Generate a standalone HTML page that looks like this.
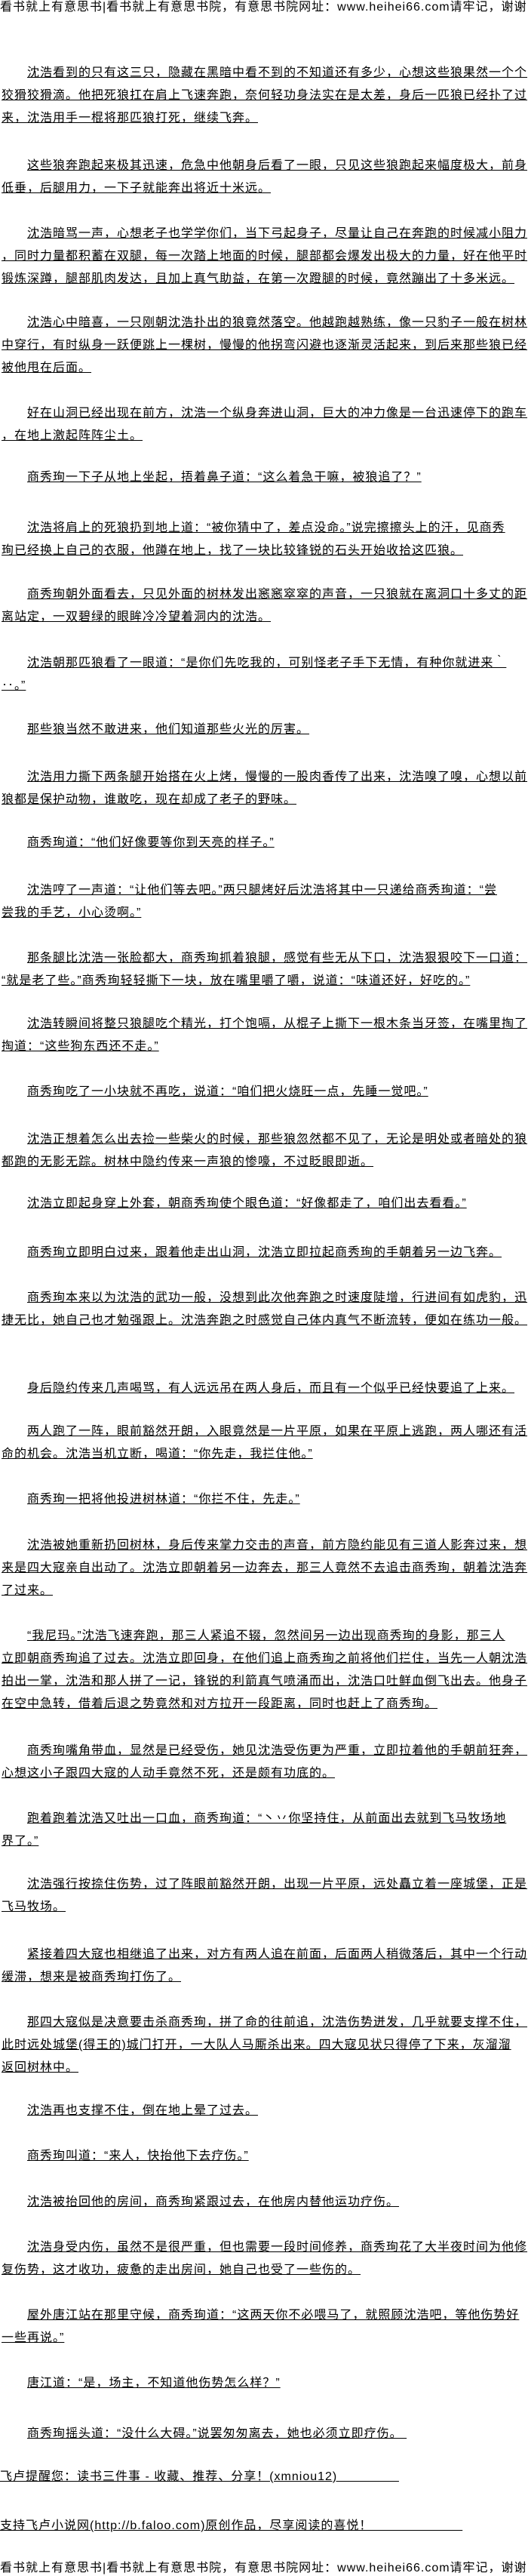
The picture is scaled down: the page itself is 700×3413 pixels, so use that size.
<!DOCTYPE html>
<html><head><meta charset="utf-8">
<style>
html,body{margin:0;padding:0;background:#fff;}
body{width:700px;height:3410px;position:relative;overflow:hidden;
font-family:"Liberation Sans","WenQuanYi Zen Hei","Noto Sans CJK SC",sans-serif;font-size:16px;letter-spacing:1px;color:#000;}
.p{position:absolute;left:2px;line-height:30px;white-space:nowrap;text-decoration:underline;}
.p .i{display:inline-block;width:34px;}
.h{position:absolute;left:0;white-space:nowrap;line-height:20px;}
</style></head><body>
<div class="h" style="top:0">看书就上有意思书|看书就上有意思书院，有意思书院网址：www.heihei66.com请牢记，谢谢</div>

<div class="p" style="top:82px"><span class="i"></span>沈浩看到的只有这三只，隐藏在黑暗中看不到的不知道还有多少，心想这些狼果然一个个<br>狡猾狡猾滴。他把死狼扛在肩上飞速奔跑，奈何轻功身法实在是太差，身后一匹狼已经扑了过<br>来，沈浩用手一棍将那匹狼打死，继续飞奔。</div>
<div class="p" style="top:205px"><span class="i"></span>这些狼奔跑起来极其迅速，危急中他朝身后看了一眼，只见这些狼跑起来幅度极大，前身<br>低垂，后腿用力，一下子就能奔出将近十米远。</div>
<div class="p" style="top:295px"><span class="i"></span>沈浩暗骂一声，心想老子也学学你们，当下弓起身子，尽量让自己在奔跑的时候减小阻力<br>，同时力量都积蓄在双腿，每一次踏上地面的时候，腿部都会爆发出极大的力量，好在他平时<br>锻炼深蹲，腿部肌肉发达，且加上真气助益，在第一次蹬腿的时候，竟然蹦出了十多米远。</div>
<div class="p" style="top:413px"><span class="i"></span>沈浩心中暗喜，一只刚朝沈浩扑出的狼竟然落空。他越跑越熟练，像一只豹子一般在树林<br>中穿行，有时纵身一跃便跳上一棵树，慢慢的他拐弯闪避也逐渐灵活起来，到后来那些狼已经<br>被他甩在后面。</div>
<div class="p" style="top:533px"><span class="i"></span>好在山洞已经出现在前方，沈浩一个纵身奔进山洞，巨大的冲力像是一台迅速停下的跑车<br>，在地上激起阵阵尘土。</div>
<div class="p" style="top:618px"><span class="i"></span>商秀珣一下子从地上坐起，捂着鼻子道：“这么着急干嘛，被狼追了？”</div>
<div class="p" style="top:685px"><span class="i"></span>沈浩将肩上的死狼扔到地上道：“被你猜中了，差点没命。”说完擦擦头上的汗，见商秀<br>珣已经换上自己的衣服，他蹲在地上，找了一块比较锋锐的石头开始收拾这匹狼。</div>
<div class="p" style="top:773px"><span class="i"></span>商秀珣朝外面看去，只见外面的树林发出窸窸窣窣的声音，一只狼就在离洞口十多丈的距<br>离站定，一双碧绿的眼眸冷冷望着洞内的沈浩。</div>
<div class="p" style="top:864px"><span class="i"></span>沈浩朝那匹狼看了一眼道：“是你们先吃我的，可别怪老子手下无情，有种你就进来‵<br>‥。”</div>
<div class="p" style="top:952px"><span class="i"></span>那些狼当然不敢进来，他们知道那些火光的厉害。</div>
<div class="p" style="top:1015px"><span class="i"></span>沈浩用力撕下两条腿开始搭在火上烤，慢慢的一股肉香传了出来，沈浩嗅了嗅，心想以前<br>狼都是保护动物，谁敢吃，现在却成了老子的野味。</div>
<div class="p" style="top:1102px"><span class="i"></span>商秀珣道：“他们好像要等你到天亮的样子。”</div>
<div class="p" style="top:1165px"><span class="i"></span>沈浩哼了一声道：“让他们等去吧。”两只腿烤好后沈浩将其中一只递给商秀珣道：“尝<br>尝我的手艺，小心烫啊。”</div>
<div class="p" style="top:1255px"><span class="i"></span>那条腿比沈浩一张脸都大，商秀珣抓着狼腿，感觉有些无从下口，沈浩狠狠咬下一口道：<br>“就是老了些。”商秀珣轻轻撕下一块，放在嘴里嚼了嚼，说道：“味道还好，好吃的。”</div>
<div class="p" style="top:1342px"><span class="i"></span>沈浩转瞬间将整只狼腿吃个精光，打个饱嗝，从棍子上撕下一根木条当牙签，在嘴里掏了<br>掏道：“这些狗东西还不走。”</div>
<div class="p" style="top:1432px"><span class="i"></span>商秀珣吃了一小块就不再吃，说道：“咱们把火烧旺一点，先睡一觉吧。”</div>
<div class="p" style="top:1495px"><span class="i"></span>沈浩正想着怎么出去捡一些柴火的时候，那些狼忽然都不见了，无论是明处或者暗处的狼<br>都跑的无影无踪。树林中隐约传来一声狼的惨嚎，不过眨眼即逝。</div>
<div class="p" style="top:1580px"><span class="i"></span>沈浩立即起身穿上外套，朝商秀珣使个眼色道：“好像都走了，咱们出去看看。”</div>
<div class="p" style="top:1645px"><span class="i"></span>商秀珣立即明白过来，跟着他走出山洞，沈浩立即拉起商秀珣的手朝着另一边飞奔。</div>
<div class="p" style="top:1705px"><span class="i"></span>商秀珣本来以为沈浩的武功一般，没想到此次他奔跑之时速度陡增，行进间有如虎豹，迅<br>捷无比，她自己也才勉强跟上。沈浩奔跑之时感觉自己体内真气不断流转，便如在练功一般。</div>
<div class="p" style="top:1825px"><span class="i"></span>身后隐约传来几声喝骂，有人远远吊在两人身后，而且有一个似乎已经快要追了上来。</div>
<div class="p" style="top:1882px"><span class="i"></span>两人跑了一阵，眼前豁然开朗，入眼竟然是一片平原，如果在平原上逃跑，两人哪还有活<br>命的机会。沈浩当机立断，喝道：“你先走，我拦住他。”</div>
<div class="p" style="top:1972px"><span class="i"></span>商秀珣一把将他投进树林道：“你拦不住，先走。”</div>
<div class="p" style="top:2033px"><span class="i"></span>沈浩被她重新扔回树林，身后传来掌力交击的声音，前方隐约能见有三道人影奔过来，想<br>来是四大寇亲自出动了。沈浩立即朝着另一边奔去，那三人竟然不去追击商秀珣，朝着沈浩奔<br>了过来。</div>
<div class="p" style="top:2153px"><span class="i"></span>“我尼玛。”沈浩飞速奔跑，那三人紧追不辍，忽然间另一边出现商秀珣的身影，那三人<br>立即朝商秀珣追了过去。沈浩立即回身，在他们追上商秀珣之前将他们拦住，当先一人朝沈浩<br>拍出一掌，沈浩和那人拼了一记，锋锐的利箭真气喷涌而出，沈浩口吐鲜血倒飞出去。他身子<br>在空中急转，借着后退之势竟然和对方拉开一段距离，同时也赶上了商秀珣。</div>
<div class="p" style="top:2305px"><span class="i"></span>商秀珣嘴角带血，显然是已经受伤，她见沈浩受伤更为严重，立即拉着他的手朝前狂奔，<br>心想这小子跟四大寇的人动手竟然不死，还是颇有功底的。</div>
<div class="p" style="top:2395px"><span class="i"></span>跑着跑着沈浩又吐出一口血，商秀珣道：“丶丷你坚持住，从前面出去就到飞马牧场地<br>界了。”</div>
<div class="p" style="top:2482px"><span class="i"></span>沈浩强行按捺住伤势，过了阵眼前豁然开朗，出现一片平原，远处矗立着一座城堡，正是<br>飞马牧场。</div>
<div class="p" style="top:2575px"><span class="i"></span>紧接着四大寇也相继追了出来，对方有两人追在前面，后面两人稍微落后，其中一个行动<br>缓滞，想来是被商秀珣打伤了。</div>
<div class="p" style="top:2665px"><span class="i"></span>那四大寇似是决意要击杀商秀珣，拼了命的往前追，沈浩伤势迸发，几乎就要支撑不住，<br>此时远处城堡(得王的)城门打开，一大队人马厮杀出来。四大寇见状只得停了下来，灰溜溜<br>返回树林中。</div>
<div class="p" style="top:2782px"><span class="i"></span>沈浩再也支撑不住，倒在地上晕了过去。</div>
<div class="p" style="top:2842px"><span class="i"></span>商秀珣叫道：“来人，快抬他下去疗伤。”</div>
<div class="p" style="top:2903px"><span class="i"></span>沈浩被抬回他的房间，商秀珣紧跟过去，在他房内替他运功疗伤。</div>
<div class="p" style="top:2963px"><span class="i"></span>沈浩身受内伤，虽然不是很严重，但也需要一段时间修养，商秀珣花了大半夜时间为他修<br>复伤势，这才收功，疲惫的走出房间，她自己也受了一些伤的。</div>
<div class="p" style="top:3053px"><span class="i"></span>屋外唐江站在那里守候，商秀珣道：“这两天你不必喂马了，就照顾沈浩吧，等他伤势好<br>一些再说。”</div>
<div class="p" style="top:3143px"><span class="i"></span>唐江道：“是，场主，不知道他伤势怎么样？”</div>
<div class="p" style="top:3210px"><span class="i"></span>商秀珣摇头道：“没什么大碍。”说罢匆匆离去，她也必须立即疗伤。&nbsp;</div>
<div class="p" style="top:3267px;left:0">飞卢提醒您：读书三件事 - 收藏、推荐、分享！(xmniou12)&nbsp;&nbsp;&nbsp;&nbsp;&nbsp;&nbsp;&nbsp;&nbsp;&nbsp;&nbsp;&nbsp;&nbsp;&nbsp;&nbsp;&nbsp;</div>
<div class="p" style="top:3332px;left:0">支持飞卢小说网(http://b.faloo.com)原创作品，尽享阅读的喜悦！&nbsp;&nbsp;&nbsp;&nbsp;&nbsp;&nbsp;&nbsp;&nbsp;&nbsp;&nbsp;&nbsp;&nbsp;&nbsp;&nbsp;&nbsp;&nbsp;&nbsp;&nbsp;&nbsp;&nbsp;&nbsp;&nbsp;</div>
<div class="h" style="top:3393px">看书就上有意思书|看书就上有意思书院，有意思书院网址：www.heihei66.com请牢记，谢谢</div>
</body></html>
